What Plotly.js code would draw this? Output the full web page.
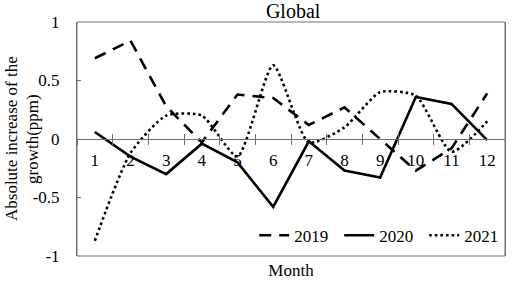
<!DOCTYPE html>
<html>
<head>
<meta charset="utf-8">
<script src="https://cdn.plot.ly/plotly-3.0.1.min.js"></script>
<style>html,body{margin:0;padding:0;background:#fff}#chart{width:512px;height:281px}</style>
</head>
<body>
<div id="chart"></div>
<script>
const months = ['1','2','3','4','5','6','7','8','9','10','11','12'];
const v2019 = [0.69, 0.84, 0.28, -0.03, 0.38, 0.35, 0.12, 0.27, 0.0, -0.27, -0.08, 0.39];
const v2020 = [0.06, -0.15, -0.30, -0.04, -0.20, -0.58, -0.02, -0.27, -0.33, 0.36, 0.30, -0.01];
const v2021 = [-0.87, -0.12, 0.20, 0.20, -0.15, 0.63, -0.03, 0.10, 0.40, 0.37, -0.11, 0.15];
const seriesNames = ['2019', '2020', '2021'];
const yTickVals = [-1, -0.5, 0, 0.5, 1];
const yTickText = ['-1', '-0.5', '0', '0.5', '1'];
const yTitleLines = ['Absolute increase of the', 'growth(ppm)'];

const FONT = 'Liberation Serif, Times New Roman, serif';
const traces = [
  {x: months, y: v2019, name: seriesNames[0], type: 'scatter', mode: 'lines',
   line: {color: '#000', width: 2.6, dash: '12px,8px'}},
  {x: months, y: v2020, name: seriesNames[1], type: 'scatter', mode: 'lines',
   line: {color: '#000', width: 2.6}},
  {x: months, y: v2021, name: seriesNames[2], type: 'scatter', mode: 'lines',
   line: {color: '#000', width: 2.6, dash: '2.6px,3px', shape: 'spline', smoothing: 0.6}},
  {x: months, y: v2020, xaxis: 'x2', mode: 'none', showlegend: false, hoverinfo: 'skip'},
  {x: months, y: v2020, xaxis: 'x3', mode: 'none', showlegend: false, hoverinfo: 'skip'}
];

const layout = {
  width: 512, height: 281,
  margin: {l: 77, r: 3, t: 22, b: 25},
  paper_bgcolor: '#fff', plot_bgcolor: '#fff',
  font: {family: FONT, size: 17, color: '#000'},
  showlegend: true,
  title: {text: 'Global', font: {family: FONT, size: 20, color: '#000'},
          x: 0.5725, xanchor: 'center', y: 0.962, yref: 'container', yanchor: 'middle'},
  xaxis: {
    type: 'category', range: [-0.5, 11.5],
    anchor: 'y', side: 'bottom',
    showgrid: false, zeroline: false, showline: false,
    showticklabels: false, ticks: '',
    title: {text: 'Month', font: {family: FONT, size: 17, color: '#000'}, standoff: 8}
  },
  xaxis2: {
    type: 'category', range: [-0.5, 11.5], overlaying: 'x',
    anchor: 'free', position: 0.5, side: 'bottom',
    showgrid: false, zeroline: false,
    showline: true, linecolor: '#6e6e6e', linewidth: 1,
    ticks: 'outside', tickson: 'boundaries', ticklen: 5, tickcolor: '#6e6e6e', tickwidth: 1,
    showticklabels: true, ticklabelstandoff: 6, tickfont: {family: FONT, size: 17, color: '#000'}
  },
  xaxis3: {
    type: 'category', range: [-0.5, 11.5], overlaying: 'x',
    anchor: 'free', position: 0.5, side: 'bottom',
    showgrid: false, zeroline: false, showline: false,
    ticks: 'inside', tickson: 'boundaries', ticklen: 5, tickcolor: '#6e6e6e', tickwidth: 1,
    showticklabels: false
  },
  yaxis: {
    range: [-1, 1], tickvals: yTickVals, ticktext: yTickText,
    showgrid: false, zeroline: false,
    showline: true, linecolor: '#6e6e6e', linewidth: 1, mirror: true,
    ticks: 'inside', ticklen: 4, tickcolor: '#6e6e6e',
    ticklabelstandoff: 13,
    tickfont: {family: FONT, size: 17, color: '#000'}
  },
  annotations: [
    {text: yTitleLines[0], xref: 'paper', yref: 'paper', x: 0, y: 0.5,
     xanchor: 'center', yanchor: 'middle', xshift: -66, textangle: -90, showarrow: false,
     font: {family: FONT, size: 17, color: '#000'}},
    {text: yTitleLines[1], xref: 'paper', yref: 'paper', x: 0, y: 0.5,
     xanchor: 'center', yanchor: 'middle', xshift: -45, textangle: -90, showarrow: false,
     font: {family: FONT, size: 17, color: '#000'}}
  ],
  legend: {
    orientation: 'h', x: 0.414, xanchor: 'left', y: 0.01, yanchor: 'bottom',
    bgcolor: 'rgba(0,0,0,0)', font: {family: FONT, size: 17, color: '#000'},
    itemwidth: 30, tracegroupgap: 0, entrywidth: 40, entrywidthmode: 'pixels'
  },
  shapes: [
    {type: 'rect', xref: 'paper', yref: 'paper', x0: 0, x1: 1, y0: 0, y1: 1,
     line: {color: '#6e6e6e', width: 1}, fillcolor: 'rgba(0,0,0,0)', layer: 'above'}
  ]
};

Plotly.newPlot('chart', traces, layout, {staticPlot: true, displayModeBar: false});
</script>
</body>
</html>
